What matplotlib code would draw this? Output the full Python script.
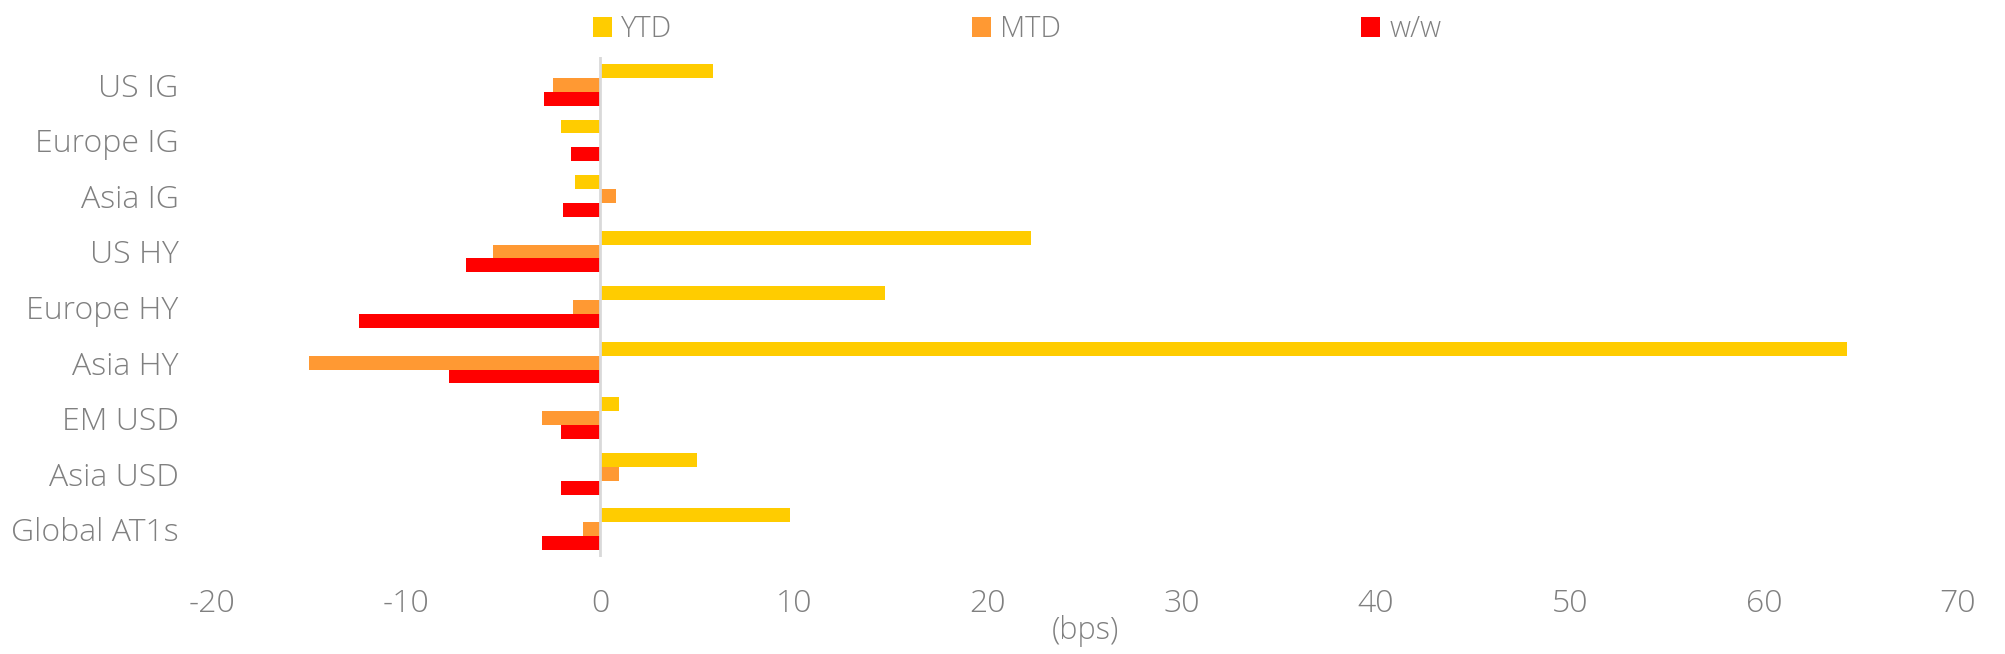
import matplotlib.pyplot as plt
from matplotlib.patches import Patch
import numpy as np

categories = ["US IG", "Europe IG", "Asia IG", "US HY", "Europe HY",
              "Asia HY", "EM USD", "Asia USD", "Global AT1s"]
ytd = [5.8, -2.0, -1.3, 22.2, 14.7, 64.3, 1.0, 5.0, 9.8]
mtd = [-2.4, 0.0, 0.8, -5.5, -1.4, -15.0, -3.0, 1.0, -0.9]
ww = [-2.9, -1.5, -1.9, -6.9, -12.4, -7.8, -2.0, -2.0, -3.0]

series_names = ["YTD", "MTD", "w/w"]
colors = ["#FFCC00", "#FF9933", "#FF0000"]
grey = "#808080"

plt.rcParams['font.family'] = ['Open Sans', 'DejaVu Sans']
plt.rcParams['axes.unicode_minus'] = False

fig = plt.figure(figsize=(20.06, 6.54), dpi=100)
ax = fig.add_axes([0.1057, 0.1483, 0.8703, 0.7645])

y = np.arange(len(categories))
h = 0.25
for i, (vals, c) in enumerate(zip([ytd, mtd, ww], colors)):
    ax.barh(y + (i - 1) * h, vals, height=h, color=c, zorder=2)

ax.set_xlim(-20, 70)
ax.set_ylim(len(categories) - 0.5, -0.5)
ax.axvline(0, color="#d9d9d9", lw=2, zorder=3)

ax.set_xticks(np.arange(-20, 71, 10))
ax.set_yticks(y)
ax.set_yticklabels(categories)
for s in ax.spines.values():
    s.set_visible(False)
ax.tick_params(axis='both', length=0, labelsize=23, labelcolor=grey)
ax.tick_params(axis='y', pad=24)
ax.tick_params(axis='x', pad=22)
for t in ax.get_xticklabels() + ax.get_yticklabels():
    t.set_fontweight('light')

ax.set_xlabel("(bps)", fontsize=22, color=grey, fontweight='light')
ax.xaxis.set_label_coords(0.5, -0.115)

handles = [Patch(facecolor=c, edgecolor='none') for c in colors]
leg = fig.legend(handles, series_names, loc='center left',
                 bbox_to_anchor=(0.2825, 0.955), ncol=3, frameon=False,
                 handlelength=0.65, handleheight=0.65, handletextpad=0.3,
                 columnspacing=10.3, fontsize=21)
for t in leg.get_texts():
    t.set_color(grey)
    t.set_fontweight('light')

fig.savefig("out.png", dpi=100)
